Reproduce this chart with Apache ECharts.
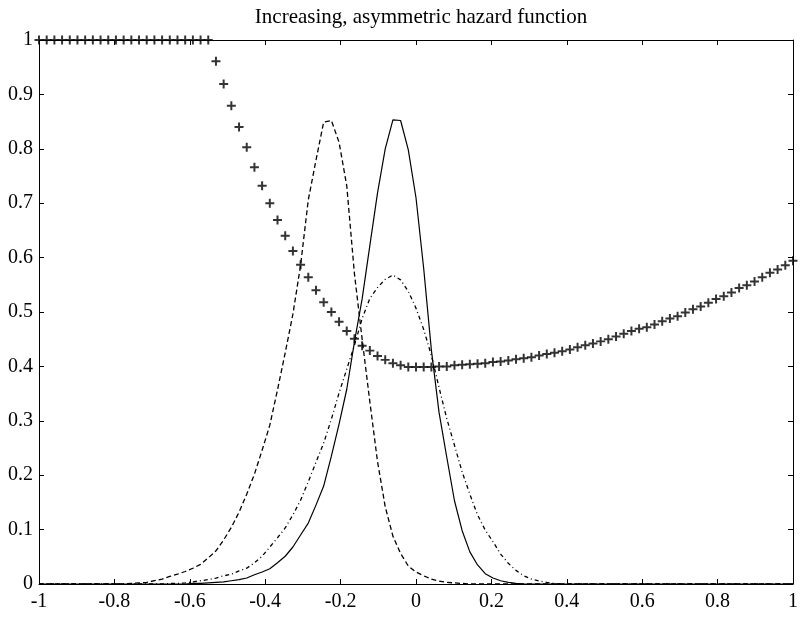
<!DOCTYPE html>
<html>
<head>
<meta charset="utf-8">
<title>hazard</title>
<script src="https://cdn.jsdelivr.net/npm/echarts@6.0.0/dist/echarts.min.js"></script>
<style>
  html, body { margin: 0; padding: 0; background: #fff; }
  #chart { width: 801px; height: 618px; }
</style>
</head>
<body>
<div id="chart"></div>
<script>
// 99 sample points between -1 and 1 (same grid for every curve)
var N = 99;
var xs = [];
for (var k = 0; k < N; k++) xs.push(-1 + 2 * k / (N - 1));

// hazard function, drawn with '+' markers
var hazard = [
  1, 1, 1, 1, 1, 1, 1, 1, 1, 1,
  1, 1, 1, 1, 1, 1, 1, 1, 1, 1,
  1, 1, 1, 0.961, 0.919, 0.879, 0.840, 0.803, 0.766, 0.732,
  0.700, 0.669, 0.640, 0.612, 0.587, 0.564, 0.540, 0.518, 0.500, 0.482,
  0.465, 0.451, 0.438, 0.429, 0.419, 0.412, 0.406, 0.402, 0.399, 0.399,
  0.399, 0.399, 0.400, 0.400, 0.402, 0.403, 0.404, 0.405, 0.406, 0.408,
  0.409, 0.411, 0.413, 0.415, 0.417, 0.420, 0.423, 0.425, 0.428, 0.431,
  0.435, 0.439, 0.442, 0.446, 0.450, 0.455, 0.460, 0.465, 0.469, 0.472,
  0.477, 0.483, 0.488, 0.492, 0.499, 0.505, 0.510, 0.517, 0.524, 0.529,
  0.536, 0.544, 0.549, 0.556, 0.564, 0.572, 0.578, 0.586, 0.594
];

// dashed density (left peak)
var densDashed = [
  0, 0, 0, 0, 0, 0, 0, 0, 0, 0,
  0, 0, 0.001, 0.002, 0.003, 0.006, 0.009, 0.014, 0.018, 0.023,
  0.029, 0.036, 0.048, 0.061, 0.081, 0.104, 0.132, 0.165, 0.202, 0.246,
  0.292, 0.357, 0.425, 0.496, 0.586, 0.706, 0.779, 0.849, 0.852, 0.812,
  0.732, 0.570, 0.450, 0.335, 0.225, 0.142, 0.088, 0.056, 0.033, 0.022,
  0.015, 0.009, 0.0055, 0.003, 0.002, 0.001, 0, 0, 0, 0,
  0, 0, 0, 0, 0, 0, 0, 0, 0, 0,
  0, 0, 0, 0, 0, 0, 0, 0, 0, 0,
  0, 0, 0, 0, 0, 0, 0, 0, 0, 0,
  0, 0, 0, 0, 0, 0, 0, 0, 0
];

// solid density
var densSolid = [
  0, 0, 0, 0, 0, 0, 0, 0, 0, 0,
  0, 0, 0, 0, 0, 0, 0, 0, 0, 0,
  0.001, 0.001, 0.002, 0.003, 0.004, 0.006, 0.008, 0.011, 0.017, 0.022,
  0.028, 0.039, 0.051, 0.068, 0.090, 0.112, 0.145, 0.180, 0.235, 0.294,
  0.358, 0.445, 0.524, 0.622, 0.719, 0.800, 0.853, 0.852, 0.798, 0.710,
  0.580, 0.430, 0.315, 0.233, 0.153, 0.098, 0.059, 0.035, 0.019, 0.011,
  0.006, 0.003, 0.001, 0, 0, 0, 0, 0, 0, 0,
  0, 0, 0, 0, 0, 0, 0, 0, 0, 0,
  0, 0, 0, 0, 0, 0, 0, 0, 0, 0,
  0, 0, 0, 0, 0, 0, 0, 0, 0
];

// dash-dot density (lower peak)
var densDashDot = [
  0, 0, 0, 0, 0, 0, 0, 0, 0, 0,
  0, 0, 0, 0, 0, 0, 0, 0.001, 0.001, 0.002,
  0.004, 0.006, 0.008, 0.011, 0.015, 0.018, 0.024, 0.029, 0.039, 0.051,
  0.068, 0.085, 0.103, 0.127, 0.154, 0.188, 0.224, 0.259, 0.303, 0.351,
  0.395, 0.439, 0.488, 0.525, 0.545, 0.560, 0.568, 0.559, 0.538, 0.507,
  0.468, 0.420, 0.361, 0.304, 0.255, 0.206, 0.165, 0.127, 0.099, 0.078,
  0.055, 0.038, 0.025, 0.015, 0.009, 0.0055, 0.003, 0.001, 0, 0,
  0, 0, 0, 0, 0, 0, 0, 0, 0, 0,
  0, 0, 0, 0, 0, 0, 0, 0, 0, 0,
  0, 0, 0, 0, 0, 0, 0, 0, 0
];

var titleText = 'Increasing, asymmetric hazard function';
var serif = '"Liberation Serif", "DejaVu Serif", serif';

function pairs(ys) {
  return xs.map(function (x, i) { return [x, ys[i]]; });
}

var plusPath = 'path://M3.9,0H6.1V3.9H10V6.1H6.1V10H3.9V6.1H0V3.9H3.9Z';

var axisCommon = {
  type: 'value',
  axisLine: { onZero: false, lineStyle: { color: '#000', width: 1 } },
  axisTick: { inside: true, length: 5, lineStyle: { color: '#000', width: 1 } },
  splitLine: { show: false },
  axisLabel: { color: '#000', fontFamily: serif, fontSize: 20 }
};

function axis(extra) {
  return echarts.util.merge(echarts.util.clone(axisCommon), extra, true);
}

var chart = echarts.init(document.getElementById('chart'), null, { renderer: 'canvas' });

chart.setOption({
  animation: false,
  backgroundColor: '#fff',
  title: {
    text: titleText,
    left: 416,
    textAlign: 'center',
    top: 2,
    textStyle: { fontFamily: serif, fontSize: 21, fontWeight: 'normal', color: '#000' }
  },
  grid: { left: 39, right: 8, top: 40, bottom: 34, outerBoundsMode: 'none' },
  xAxis: [
    axis({ min: -1, max: 1, interval: 0.2, position: 'bottom', axisLabel: { margin: 8 } }),
    axis({ min: -1, max: 1, interval: 0.2, position: 'top', axisLabel: { show: false } })
  ],
  yAxis: [
    axis({ min: 0, max: 1, interval: 0.1, position: 'left', axisLabel: { margin: 6 } }),
    axis({ min: 0, max: 1, interval: 0.1, position: 'right', axisLabel: { show: false } })
  ],
  series: [
    {
      type: 'line',
      data: pairs(densDashed),
      symbol: 'none',
      lineStyle: { color: '#000', width: 1.3, type: [5, 3] }
    },
    {
      type: 'line',
      data: pairs(densSolid),
      symbol: 'none',
      lineStyle: { color: '#000', width: 1.2, type: 'solid' }
    },
    {
      type: 'line',
      data: pairs(densDashDot),
      symbol: 'none',
      lineStyle: { color: '#000', width: 1.3, type: [4, 3, 1, 3] }
    },
    {
      type: 'scatter',
      data: pairs(hazard),
      symbol: plusPath,
      symbolSize: 9,
      clip: false,
      itemStyle: { color: '#000' }
    }
  ]
});
</script>
</body>
</html>
